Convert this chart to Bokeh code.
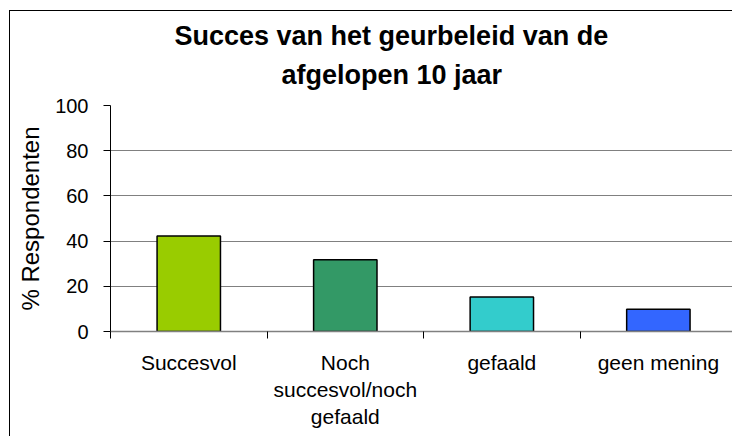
from bokeh.plotting import figure
from bokeh.models import Range1d, FixedTicker, Title
from bokeh.embed import file_html
from bokeh.resources import INLINE

# ---- data ----
categories = ["Succesvol", "Noch\nsuccesvol/noch\ngefaald", "gefaald", "geen mening"]
values = [42.3, 31.7, 15.3, 9.9]
colors = ["#99CC00", "#339966", "#33CCCC", "#3366FF"]
y_ticks = [0, 20, 40, 60, 80, 100]
title_lines = ["Succes van het geurbeleid van de", "afgelopen 10 jaar"]
y_label = "% Respondenten"

FONT = "Liberation Sans"

xs = [i + 0.5 for i in range(len(categories))]

p = figure(width=723, height=426, output_backend="svg", toolbar_location=None,
           x_range=Range1d(0, 3.98), y_range=Range1d(0, 100),
           min_border_left=100, min_border_right=0, min_border_top=94,
           min_border_bottom=106)
p.styles = {"margin-left": "9px", "margin-top": "10px",
            "border-left": "1px solid #000000", "border-top": "1px solid #000000"}
p.outline_line_color = None
p.background_fill_color = "white"
p.border_fill_color = "white"

p.vbar(x=xs, top=values, width=0.405, bottom=0, fill_color=colors,
       line_color="black", line_width=1.5)

# y axis
p.yaxis.ticker = FixedTicker(ticks=y_ticks)
p.yaxis.axis_label = y_label
p.yaxis.axis_label_text_font = FONT
p.yaxis.axis_label_text_font_size = "24px"
p.yaxis.axis_label_text_font_style = "normal"
p.yaxis.axis_label_text_color = "black"
p.yaxis.axis_label_standoff = 8
p.yaxis.major_label_text_font = FONT
p.yaxis.major_label_text_font_size = "20px"
p.yaxis.major_label_text_color = "black"
p.yaxis.major_label_standoff = 15
p.yaxis.major_tick_in = 0
p.yaxis.major_tick_out = 7
p.yaxis.major_tick_line_color = "black"
p.yaxis.minor_tick_line_color = None
p.yaxis.axis_line_color = "black"

# x axis
p.xaxis.ticker = FixedTicker(ticks=xs, minor_ticks=list(range(len(categories) + 1)))
p.xaxis.major_label_overrides = {x: c for x, c in zip(xs, categories)}
p.xaxis.major_label_text_font = FONT
p.xaxis.major_label_text_font_size = "21px"
p.xaxis.major_label_text_color = "black"
p.xaxis.major_label_text_line_height = 1.18
p.xaxis.major_label_standoff = 12
p.xaxis.major_tick_line_color = None
p.xaxis.major_tick_in = 0
p.xaxis.major_tick_out = 0
p.xaxis.minor_tick_in = 0
p.xaxis.minor_tick_out = 7
p.xaxis.minor_tick_line_color = "black"
p.xaxis.axis_line_color = "#808080"
p.xaxis.axis_line_width = 1.5

p.xgrid.grid_line_color = None
p.ygrid.ticker = FixedTicker(ticks=y_ticks)
p.ygrid.grid_line_color = "#808080"
p.ygrid.grid_line_width = 1.2

# title: two lines, second line added first (closest to the frame)
for text, off, standoff in [(title_lines[1], 171, 32), (title_lines[0], 64, -18)]:
    p.add_layout(Title(text=text, align="left", offset=off, standoff=standoff,
                       text_font=FONT, text_font_size="27px",
                       text_font_style="bold", text_color="black"), "above")

open("out.html", "w").write(file_html(p, INLINE))
